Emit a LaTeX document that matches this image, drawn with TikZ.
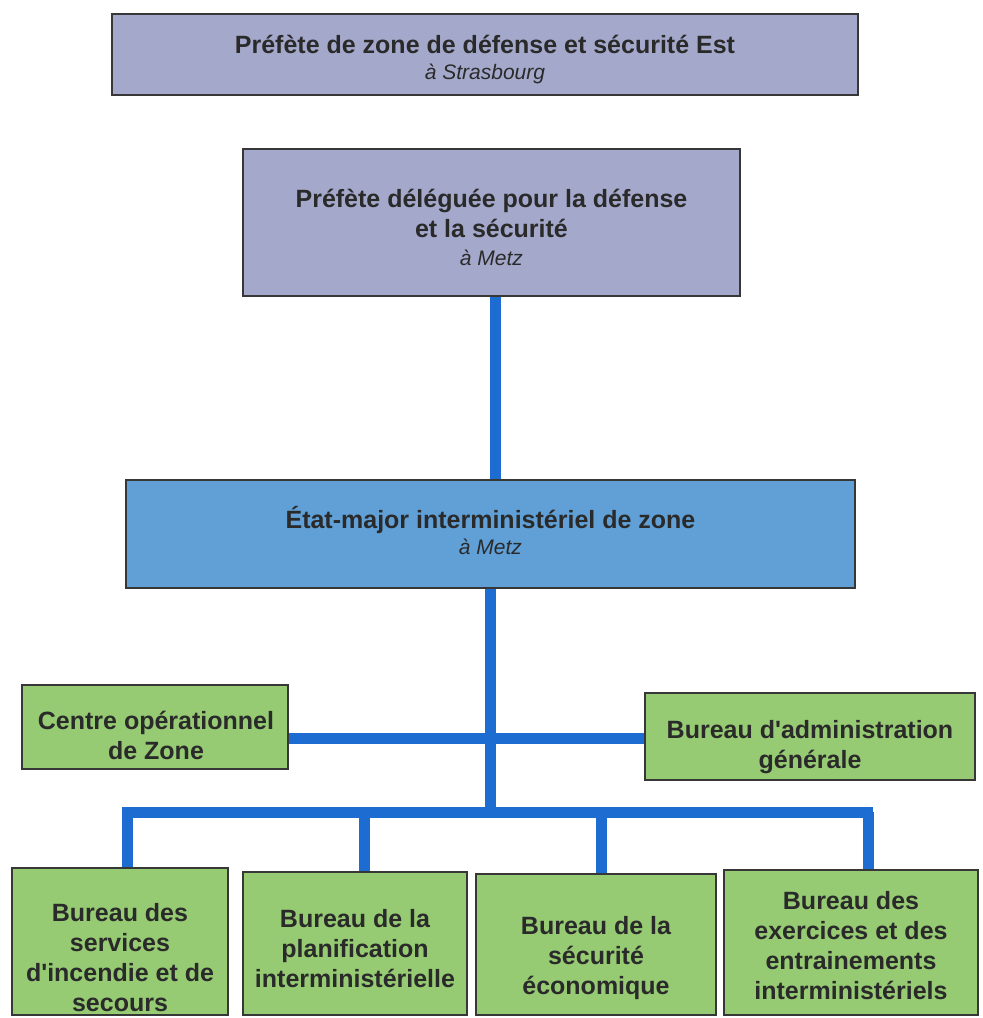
\documentclass[tikz,border=0pt]{standalone}
\usepackage{fontspec}
\setmainfont{Liberation Sans}
\definecolor{slate}{RGB}{164,169,204}
\definecolor{sky}{RGB}{96,160,214}
\definecolor{leaf}{RGB}{150,203,115}
\definecolor{wire}{RGB}{28,108,210}
\definecolor{rim}{RGB}{55,55,55}
\definecolor{ink}{RGB}{42,42,42}
\tikzset{
  box/.style={draw=rim, line width=2.5pt, rectangle, inner sep=0pt},
  lbl/.style={align=center, text=ink, font=\fontsize{25}{30}\selectfont\bfseries, inner sep=0pt},
  conn/.style={draw=wire, line width=11pt},
}
\newcommand{\sub}[1]{{\fontsize{21}{28}\selectfont\mdseries\itshape #1}}
\begin{document}
\begin{tikzpicture}[x=1pt,y=-1pt]
\useasboundingbox (0,0) rectangle (983,1018);
% boxes
\node[box, fill=slate, minimum width=746pt, minimum height=81pt] (zone) at (485,54.5) {};
\node[box, fill=slate, minimum width=497pt, minimum height=147pt] (deleg) at (491.5,222.5) {};
\node[box, fill=sky, minimum width=729pt, minimum height=108pt] (emiz) at (490.5,534) {};
\node[box, fill=leaf, minimum width=266pt, minimum height=84pt] (coz) at (155,727) {};
\node[box, fill=leaf, minimum width=330pt, minimum height=87pt] (bag) at (810,736.5) {};
\node[box, fill=leaf, minimum width=216pt, minimum height=147pt] (bsis) at (120,941.5) {};
\node[box, fill=leaf, minimum width=224pt, minimum height=143pt] (bpi) at (355,943.5) {};
\node[box, fill=leaf, minimum width=240pt, minimum height=141pt] (bse) at (596,944.5) {};
\node[box, fill=leaf, minimum width=254pt, minimum height=145pt] (bee) at (851,942.5) {};
% texts
\node[lbl] (zonet) at (485,60) {Préfète de zone de défense et sécurité Est\\[-4pt]\sub{à Strasbourg}};
\node[lbl] (delegt) at (491.5,227) {Préfète déléguée pour la défense\\et la sécurité\\[-2pt]\sub{à Metz}};
\node[lbl] (emizt) at (490.5,531) {État-major interministériel de zone\\[-4pt]\sub{à Metz}};
\node[lbl] (cozt) at (156,735) {Centre opérationnel\\de Zone};
\node[lbl] (bagt) at (810,747) {Bureau d\textquotesingle administration\\générale};
\node[lbl] (bsist) at (120,958) {Bureau des\\services\\d\textquotesingle incendie et de\\secours};
\node[lbl] (bpit) at (355,949) {Bureau de la\\planification\\interministérielle};
\node[lbl] (bset) at (596,958) {Bureau de la\\sécurité\\économique};
\node[lbl] (beet) at (851,946) {Bureau des\\exercices et des\\entrainements\\interministériels};
% connectors
\coordinate (xa) at (495,0);
\coordinate (xb) at (490,0);
\coordinate (barL) at (122,812);
\coordinate (barR) at (873,812);
\coordinate (barM) at (490,812);
\coordinate (d1) at (127,812);
\coordinate (d2) at (364,812);
\coordinate (d3) at (601,812);
\coordinate (d4) at (868,812);
\draw[conn] (xa |- deleg.south) -- (xa |- emiz.north);
\draw[conn] (xb |- emiz.south) -- (barM);
\draw[conn] (coz.east |- 0,738) -- (bag.west |- 0,738);
\draw[conn] (barL) -- (barR);
\draw[conn] (d1) -- (d1 |- bsis.north);
\draw[conn] (d2) -- (d2 |- bpi.north);
\draw[conn] (d3) -- (d3 |- bse.north);
\draw[conn] (d4) -- (d4 |- bee.north);
\end{tikzpicture}
\end{document}
